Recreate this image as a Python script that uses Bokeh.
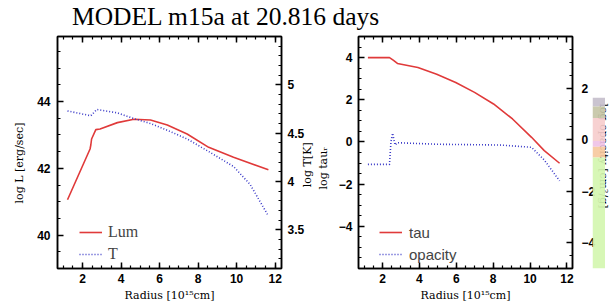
import numpy as np
from bokeh.plotting import figure
from bokeh.models import (Range1d, LinearAxis, FixedTicker, Legend, LegendItem,
                          GridBox, CustomJSTickFormatter, Div, Title)
from bokeh.embed import file_html
from bokeh.resources import INLINE

# ---------------- data ----------------
title_text = "MODEL m15a at 20.816 days"

x_major = [2, 4, 6, 8, 10, 12]

lum_radius = [1.22, 2.39, 2.43, 2.47, 2.69, 2.91, 3.81, 4.67, 5.53, 6.40, 7.43, 8.55, 9.84, 11.65]
lum_logL = [41.06, 42.58, 42.70, 42.88, 43.16, 43.18, 43.37, 43.47, 43.45, 43.30, 43.03, 42.63, 42.33, 41.96]

t_radius = [1.22, 2.43, 2.74, 3.81, 4.67, 5.53, 6.40, 7.43, 8.55, 9.84, 10.70, 11.60]
t_logT = [4.73, 4.68, 4.745, 4.71, 4.65, 4.60, 4.53, 4.44, 4.31, 4.155, 3.97, 3.66]

tau_radius = [1.21, 2.38, 2.58, 2.81, 3.92, 4.94, 5.97, 6.99, 8.02, 9.05, 10.08, 10.77, 11.60]
tau_log = [4.0, 4.0, 3.88, 3.72, 3.53, 3.21, 2.82, 2.35, 1.80, 1.09, 0.22, -0.41, -1.01]

op_radius = [1.21, 2.38, 2.46, 2.55, 2.68, 2.81, 4.94, 8.37, 9.74, 10.08, 10.77, 11.60]
op_log = [-0.96, -0.96, -0.08, 0.25, -0.21, -0.12, -0.18, -0.21, -0.28, -0.30, -0.79, -1.60]

# decorative colour strip overlapping the right edge (bands, px from strip top)
strip_colors = ["#c6bfcc", "#c6c6a6", "#f6cdcd", "#efc2e6", "#f6c99e", "#d4f6b0"]
strip_tops = [0, 11, 25, 53, 60, 73]
strip_bottoms = [11, 25, 53, 60, 73, 208]

RED = "#e03a3a"
BLUE = "#3a3ac8"
NB = "\u00a0"


def style_axis(ax, major, minor, labels=True):
    ax.ticker = FixedTicker(ticks=major, minor_ticks=minor)
    ax.major_tick_in = 6
    ax.major_tick_out = 0
    ax.minor_tick_in = 3
    ax.minor_tick_out = 0
    ax.axis_line_width = 1.5
    ax.axis_line_color = "black"
    ax.major_tick_line_width = 1.5
    ax.minor_tick_line_width = 1.2
    ax.major_label_text_font = "Liberation Sans"
    ax.major_label_text_font_style = "bold"
    ax.major_label_text_font_size = "12px"
    ax.major_label_text_color = "black"
    ax.axis_label_text_font = "DejaVu Serif"
    ax.axis_label_text_font_style = "normal"
    ax.axis_label_text_font_size = "11px"
    ax.axis_label_text_color = "black"
    if not labels:
        ax.formatter = CustomJSTickFormatter(code="return ''")
        ax.major_label_text_font_size = "1px"
        ax.major_label_standoff = 0


def side_title(text):
    # rotated axis title (reads bottom-to-top) placed in a left-hand side panel
    return Title(text=text, align="center", standoff=0, offset=0,
                 text_font="DejaVu Serif", text_font_size="11px",
                 text_font_style="normal", text_color="black")


x_minor = [round(v, 2) for v in np.arange(0.5, 12.6, 0.5)]

# ---------------- title ----------------
title_div = Div(
    text=('<div style="font-family: \'Liberation Serif\'; font-size: 25.5px; '
          'line-height: 33px; padding-left: 72px; white-space: nowrap; color: black;">'
          + title_text + '</div>'),
    width=613, height=30, margin=0)

# ---------------- left panel ----------------
p1 = figure(width=325, height=275, x_range=Range1d(0.7, 12.33), y_range=Range1d(39.0, 45.95),
            toolbar_location=None, output_backend="svg", title=None,
            min_border_left=57, min_border_right=44, min_border_top=6, min_border_bottom=37)
p1.extra_y_ranges = {"T": Range1d(3.1, 5.5)}
p1.grid.visible = False
p1.outline_line_color = "black"
p1.outline_line_width = 1.5

style_axis(p1.xaxis[0], x_major, x_minor)
p1.xaxis[0].axis_label = "Radius [10¹⁵cm]"
p1.xaxis[0].major_label_standoff = 5
p1.xaxis[0].axis_label_standoff = 3

style_axis(p1.yaxis[0], [40, 42, 44], [round(v, 2) for v in np.arange(39, 46.01, 0.5)])
p1.yaxis[0].axis_label = "log L [erg/sec]" + NB * 6
p1.yaxis[0].major_label_standoff = 7
p1.yaxis[0].axis_label_standoff = 8

ax_top1 = LinearAxis()
style_axis(ax_top1, x_major, x_minor, labels=False)
p1.add_layout(ax_top1, "above")

ax_T = LinearAxis(y_range_name="T")
style_axis(ax_T, [3.5, 4.0, 4.5, 5.0], [round(v, 2) for v in np.arange(3.1, 5.51, 0.1)])
ax_T.major_label_standoff = 6
p1.add_layout(ax_T, "right")

r_lum = p1.line(lum_radius, lum_logL, line_color=RED, line_width=1.6)
r_T = p1.line(t_radius, t_logT, y_range_name="T", line_color=BLUE, line_width=1.6,
              line_dash="1 2")

leg1 = Legend(items=[LegendItem(label="Lum", renderers=[r_lum]),
                     LegendItem(label="T", renderers=[r_T])],
              location=(22, 4), border_line_color=None, background_fill_alpha=0,
              padding=0, margin=0, glyph_width=23, glyph_height=20, label_height=20,
              spacing=2, label_standoff=6, label_text_font="Liberation Serif",
              label_text_font_size="16px")
p1.add_layout(leg1)

# ---------------- right panel ----------------
p2 = figure(width=315, height=275, x_range=Range1d(0.7, 12.3), y_range=Range1d(-6.0, 5.0),
            toolbar_location=None, output_backend="svg", title=None,
            min_border_left=53, min_border_right=40, min_border_top=6, min_border_bottom=37)
p2.extra_y_ranges = {"op": Range1d(-5.0, 4.0)}
p2.grid.visible = False
p2.outline_line_color = "black"
p2.outline_line_width = 1.5
p2.border_fill_alpha = 0

style_axis(p2.xaxis[0], x_major, x_minor)
p2.xaxis[0].axis_label = "Radius [10¹⁵cm]"
p2.xaxis[0].major_label_standoff = 5
p2.xaxis[0].axis_label_standoff = 3

style_axis(p2.yaxis[0], [-4, -2, 0, 2, 4], [round(v, 2) for v in np.arange(-6, 5.01, 0.5)])
p2.yaxis[0].axis_label = "log tauᵣ" + NB * 9
p2.yaxis[0].major_label_standoff = 6
p2.yaxis[0].axis_label_standoff = 6
# title of the left panel's right-hand (temperature) axis sits just outside it
p2.add_layout(side_title("log T[K]" + NB * 7), "left")

ax_top2 = LinearAxis()
style_axis(ax_top2, x_major, x_minor, labels=False)
p2.add_layout(ax_top2, "above")

ax_op = LinearAxis(y_range_name="op", axis_label=NB * 2 + "log opacity [cm²/g]")
style_axis(ax_op, [-4, -2, 0, 2], [round(v, 2) for v in np.arange(-5, 4.01, 0.5)])
ax_op.major_label_standoff = 9
ax_op.axis_label_standoff = -1
p2.add_layout(ax_op, "right")

r_tau = p2.line(tau_radius, tau_log, line_color=RED, line_width=1.6)
r_op = p2.line(op_radius, op_log, y_range_name="op", line_color=BLUE, line_width=1.6,
               line_dash="1 2")

leg2 = Legend(items=[LegendItem(label="tau", renderers=[r_tau]),
                     LegendItem(label="opacity", renderers=[r_op])],
              location=(21, 4), border_line_color=None, background_fill_alpha=0,
              padding=0, margin=0, glyph_width=23, glyph_height=20, label_height=20,
              spacing=2, label_standoff=7, label_text_font="Liberation Sans",
              label_text_font_size="15px")
p2.add_layout(leg2)

# ---------------- colour strip (overlaps right panel edge) ----------------
sf = figure(width=13, height=208, x_range=Range1d(0, 1), y_range=Range1d(208, 0),
            toolbar_location=None, output_backend="svg", min_border=0, title=None,
            x_axis_location=None, y_axis_location=None)
sf.grid.visible = False
sf.outline_line_color = None
sf.background_fill_alpha = 0
sf.border_fill_alpha = 0
sf.quad(left=0, right=1, top=strip_tops, bottom=strip_bottoms, fill_color=strip_colors,
        fill_alpha=0.92, line_color=None)

layout = GridBox(children=[(title_div, 0, 0, 1, 6), (p1, 1, 0, 2, 2), (p2, 1, 1, 2, 5),
                           (sf, 2, 4, 1, 1)],
                 rows=["30px", "67px", "208px"],
                 cols=["298px", "27px", "263px", "4px", "13px", "8px"],
                 spacing=0)
open("out.html", "w").write(file_html(layout, INLINE))
